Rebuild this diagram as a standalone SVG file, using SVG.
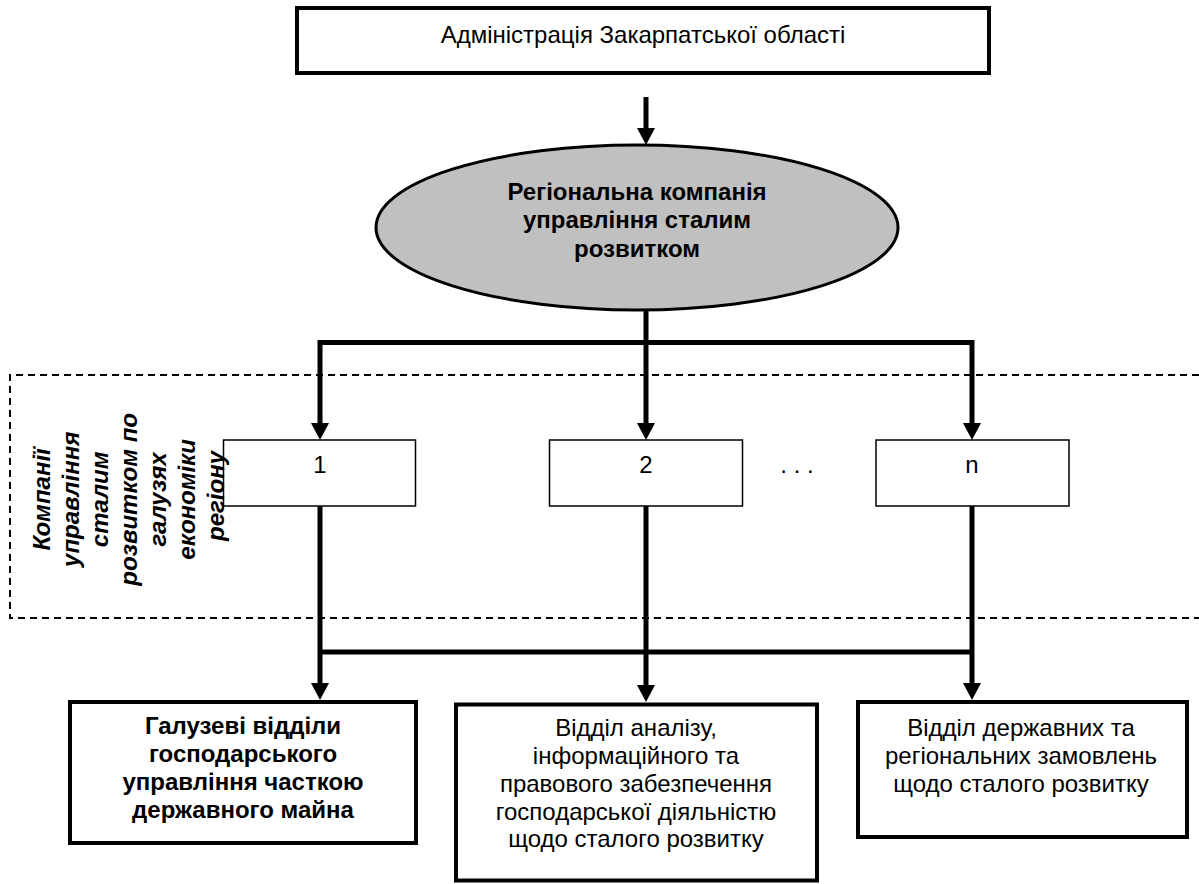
<svg xmlns="http://www.w3.org/2000/svg" width="1199" height="884" viewBox="0 0 1199 884">
<style>
.t{font-family:"Liberation Sans",Arial,sans-serif;font-size:24px;fill:#000;text-anchor:middle}
.b{font-weight:bold}
.bi{font-weight:bold;font-style:italic}
.thick{fill:#fff;stroke:#000;stroke-width:4}
.thin{fill:#fff;stroke:#000;stroke-width:1.5}
.ln{fill:none;stroke:#000;stroke-width:5}
.dash{fill:none;stroke:#000;stroke-width:2;stroke-dasharray:7 5}
</style>
<defs>
<marker id="ah" markerUnits="userSpaceOnUse" markerWidth="17" markerHeight="18" refX="0" refY="9" orient="auto" viewBox="0 0 17 18">
<path d="M0,0 L17,9 L0,18 Z" fill="#000"/>
</marker>
</defs>
<rect width="1199" height="884" fill="#fff"/>

<g id="region">
<path class="dash" d="M1199,375 H10 V618 H1199"/>
<text class="t bi" transform="translate(0,496) rotate(-90)">
<tspan x="0" y="50">Компанії</tspan>
<tspan x="0" y="79">управління</tspan>
<tspan x="0" y="108">сталим</tspan>
<tspan x="0" y="137">розвитком по</tspan>
<tspan x="0" y="166">галузях</tspan>
<tspan x="0" y="195">економіки</tspan>
<tspan x="0" y="224">регіону</tspan>
</text>
</g>

<g id="connectors">
<line class="ln" x1="646" y1="97" x2="646" y2="128" marker-end="url(#ah)"/>
<path class="ln" d="M646,310 V342.5 M320,342.5 H972"/>
<line class="ln" x1="320" y1="340" x2="320" y2="423" marker-end="url(#ah)"/>
<line class="ln" x1="646" y1="342" x2="646" y2="423" marker-end="url(#ah)"/>
<line class="ln" x1="972" y1="340" x2="972" y2="423" marker-end="url(#ah)"/>
<path class="ln" d="M320,652 H972"/>
<line class="ln" x1="320" y1="506" x2="320" y2="683" marker-end="url(#ah)"/>
<line class="ln" x1="646" y1="506" x2="646" y2="685" marker-end="url(#ah)"/>
<line class="ln" x1="972" y1="506" x2="972" y2="683" marker-end="url(#ah)"/>
</g>

<g id="admin">
<rect class="thick" x="297" y="8" width="692" height="65"/>
<text class="t" x="643" y="43">Адміністрація Закарпатської області</text>
</g>

<g id="company">
<ellipse cx="637" cy="227.5" rx="261" ry="82.5" fill="#c0c0c0" stroke="#000" stroke-width="3"/>
<text class="t b"><tspan x="637" y="200">Регіональна компанія</tspan><tspan x="637" y="228">управління сталим</tspan><tspan x="637" y="257">розвитком</tspan></text>
</g>

<g id="branch1">
<rect class="thin" x="223.5" y="440" width="192" height="66" fill-opacity="0"/>
<text class="t" x="320" y="473">1</text>
</g>
<g id="branch2">
<rect class="thin" x="549.5" y="440" width="193" height="66"/>
<text class="t" x="646" y="473">2</text>
</g>
<g id="dots">
<text class="t" x="797" y="473">. . .</text>
</g>
<g id="branchn">
<rect class="thin" x="876" y="440" width="193" height="66"/>
<text class="t" x="972" y="473">n</text>
</g>

<g id="deptA">
<rect class="thick" x="70" y="702" width="346" height="141"/>
<text class="t b"><tspan x="243" y="734">Галузеві відділи</tspan><tspan x="243" y="762">господарського</tspan><tspan x="243" y="790">управління часткою</tspan><tspan x="243" y="818">державного майна</tspan></text>
</g>
<g id="deptB">
<rect class="thick" x="456" y="704.5" width="361" height="176"/>
<text class="t"><tspan x="636" y="736">Відділ аналізу,</tspan><tspan x="636" y="764">інформаційного та</tspan><tspan x="636" y="792">правового забезпечення</tspan><tspan x="636" y="820">господарської діяльністю</tspan><tspan x="636" y="847">щодо сталого розвитку</tspan></text>
</g>
<g id="deptC">
<rect class="thick" x="858" y="702" width="329" height="135"/>
<text class="t"><tspan x="1021" y="736">Відділ державних та</tspan><tspan x="1021" y="764">регіональних замовлень</tspan><tspan x="1021" y="792">щодо сталого розвитку</tspan></text>
</g>
</svg>
